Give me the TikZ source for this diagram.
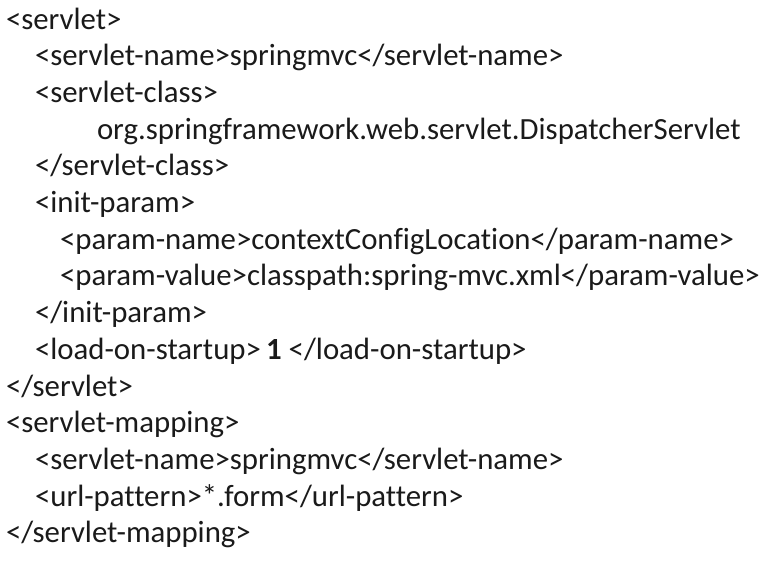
\documentclass[tikz,border=0pt]{standalone}
\usepackage{fontspec}
\setmainfont{Carlito}[Ligatures={NoCommon}]
\definecolor{ink}{HTML}{1A1A1A}
\begin{document}
\begin{tikzpicture}[x=1pt,y=-1pt,
  codeline/.style={anchor=base west,inner sep=0pt,outer sep=0pt,text=ink,
    font=\fontsize{30.8}{36}\selectfont}]
\useasboundingbox[fill=white] (0,0) rectangle (777,568);
\def\ls{36.7}
\node[codeline] (l1)  at (6, 29+0*\ls) {<servlet>};
\node[codeline] (l2)  at (35,29+1*\ls) {<servlet-name>springmvc</servlet-name>};
\node[codeline] (l3)  at (35,29+2*\ls) {<servlet-class>};
\node[codeline] (l4)  at (97,29+3*\ls) {org.springframework.web.servlet.DispatcherServlet};
\node[codeline] (l5)  at (35,29+4*\ls) {</servlet-class>};
\node[codeline] (l6)  at (35,29+5*\ls) {<init-param>};
\node[codeline] (l7)  at (60,29+6*\ls) {<param-name>contextConfigLocation</param-name>};
\node[codeline] (l8)  at (60,29+7*\ls) {<param-value>classpath:spring-mvc.xml</param-value>};
\node[codeline] (l9)  at (35,29+8*\ls) {</init-param>};
\node[codeline] (l10) at (35,29+9*\ls) {<load-on-startup>\,\textbf{1} </load-on-startup>};
\node[codeline] (l11) at (6, 29+10*\ls) {</servlet>};
\node[codeline] (l12) at (6, 29+11*\ls) {<servlet-mapping>};
\node[codeline] (l13) at (35,29+12*\ls) {<servlet-name>springmvc</servlet-name>};
\node[codeline] (l14) at (35,29+13*\ls) {<url-pattern>*.form</url-pattern>};
\node[codeline] (l15) at (6, 29+14*\ls) {</servlet-mapping>};
\end{tikzpicture}
\end{document}
